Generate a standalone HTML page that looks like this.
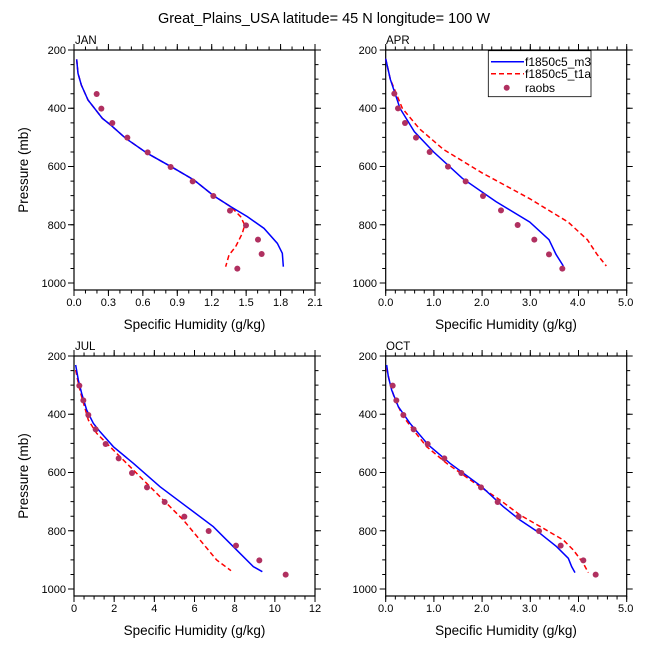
<!DOCTYPE html>
<html><head><meta charset="utf-8"><style>
html,body{margin:0;padding:0;background:#fff}
svg{display:block}
text{font-family:"Liberation Sans",Arial,sans-serif;fill:#000}
</style></head><body>
<svg width="648" height="649" viewBox="0 0 648 649" xmlns="http://www.w3.org/2000/svg">
<defs>
<g id="yax" stroke="#000" fill="none">
  <rect x="0" y="0" width="241" height="240" stroke-width="1.2"/>
  <line x1="-1.75" y1="-0.5" x2="-1.75" y2="240" stroke-width="3.5" stroke-dasharray="1 13.5625"/>
  <line x1="-3" y1="-0.5" x2="-3" y2="240" stroke-width="6" stroke-dasharray="1 57.25"/>
  <line x1="242.75" y1="-0.5" x2="242.75" y2="240" stroke-width="3.5" stroke-dasharray="1 13.5625"/>
  <line x1="244" y1="-0.5" x2="244" y2="240" stroke-width="6" stroke-dasharray="1 57.25"/>
</g>
<g id="xJAN" stroke="#000" fill="none">
  <line x1="-0.5" y1="-1.75" x2="242" y2="-1.75" stroke-width="3.5" stroke-dasharray="1 10.476"/>
  <line x1="-0.5" y1="-3" x2="242" y2="-3" stroke-width="6" stroke-dasharray="1 33.43"/>
  <line x1="-0.5" y1="241.75" x2="242" y2="241.75" stroke-width="3.5" stroke-dasharray="1 10.476"/>
  <line x1="-0.5" y1="243" x2="242" y2="243" stroke-width="6" stroke-dasharray="1 33.43"/>
</g>
<g id="x5" stroke="#000" fill="none">
  <line x1="-0.5" y1="-1.75" x2="242" y2="-1.75" stroke-width="3.5" stroke-dasharray="1 8.64"/>
  <line x1="-0.5" y1="-3" x2="242" y2="-3" stroke-width="6" stroke-dasharray="1 47.2"/>
  <line x1="-0.5" y1="241.75" x2="242" y2="241.75" stroke-width="3.5" stroke-dasharray="1 8.64"/>
  <line x1="-0.5" y1="243" x2="242" y2="243" stroke-width="6" stroke-dasharray="1 47.2"/>
</g>
<g id="xJUL" stroke="#000" fill="none">
  <line x1="-0.5" y1="-1.75" x2="242" y2="-1.75" stroke-width="3.5" stroke-dasharray="1 9.042"/>
  <line x1="-0.5" y1="-3" x2="242" y2="-3" stroke-width="6" stroke-dasharray="1 39.17"/>
  <line x1="-0.5" y1="241.75" x2="242" y2="241.75" stroke-width="3.5" stroke-dasharray="1 9.042"/>
  <line x1="-0.5" y1="243" x2="242" y2="243" stroke-width="6" stroke-dasharray="1 39.17"/>
</g>
</defs>

<text x="324" y="23" font-size="14.5" text-anchor="middle">Great_Plains_USA  latitude= 45 N longitude= 100 W</text>

<!-- JAN -->
<use href="#yax" x="74" y="50"/><use href="#xJAN" x="74" y="50"/>
<text x="75" y="44" font-size="11.5">JAN</text>
<g font-size="11" text-anchor="end"><text x="66" y="54">200</text><text x="66" y="112">400</text><text x="66" y="170">600</text><text x="66" y="229">800</text><text x="66" y="287">1000</text></g>
<g font-size="11" text-anchor="middle"><text x="74" y="306">0.0</text><text x="108.4" y="306">0.3</text><text x="142.9" y="306">0.6</text><text x="177.3" y="306">0.9</text><text x="211.7" y="306">1.2</text><text x="246.1" y="306">1.5</text><text x="280.6" y="306">1.8</text><text x="315" y="306">2.1</text></g>
<text x="194.5" y="329" font-size="13.5" text-anchor="middle">Specific Humidity (g/kg)</text>
<text transform="translate(28,170) rotate(-90)" font-size="13.5" text-anchor="middle">Pressure (mb)</text>
<g transform="translate(74,50) scale(0.33333)" fill="none" stroke-width="4.5">
<polyline stroke="#f00" stroke-dasharray="15 9" points="8,28 12,70 22,105 42,150 85,205 110,225 155,265 220,310 300,355 360,390 420,438 470,470 500,500 512,525 505,550 485,590 465,615 455,650"/>
<polyline stroke="#00f" points="8,28 12,70 22,105 42,150 85,205 110,225 155,265 220,310 300,355 360,390 420,438 470,470 520,500 570,535 610,580 625,610 628,650"/>
<g fill="#b03060" stroke="none"><circle cx="68" cy="132" r="9"/><circle cx="82" cy="176" r="9"/><circle cx="115" cy="219" r="9"/><circle cx="160" cy="263" r="9"/><circle cx="221" cy="307" r="9"/><circle cx="290" cy="351" r="9"/><circle cx="356" cy="394" r="9"/><circle cx="418" cy="438" r="9"/><circle cx="468" cy="482" r="9"/><circle cx="516" cy="526" r="9"/><circle cx="552" cy="569" r="9"/><circle cx="563" cy="612" r="9"/><circle cx="490" cy="656" r="9"/></g>
</g>

<!-- APR -->
<use href="#yax" x="385.7" y="50"/><use href="#x5" x="385.7" y="50"/>
<text x="386" y="44" font-size="11.5">APR</text>
<g font-size="11" text-anchor="end"><text x="377" y="54">200</text><text x="377" y="112">400</text><text x="377" y="170">600</text><text x="377" y="229">800</text><text x="377" y="287">1000</text></g>
<g font-size="11" text-anchor="middle"><text x="385.7" y="306">0.0</text><text x="433.7" y="306">1.0</text><text x="481.7" y="306">2.0</text><text x="529.7" y="306">3.0</text><text x="577.7" y="306">4.0</text><text x="625.7" y="306">5.0</text></g>
<text x="506" y="329" font-size="13.5" text-anchor="middle">Specific Humidity (g/kg)</text>
<g transform="translate(370,30) scale(0.33333)" fill="none" stroke-width="4.5">
<polyline stroke="#f00" stroke-dasharray="15 9" points="47,86 61,148 97,235 148,296 220,358 335,428 479,506 594,576 652,629 681,673 709,708"/>
<polyline stroke="#00f" points="47,86 61,148 90,235 133,305 191,366 277,445 378,515 479,576 537,629 558,673 580,708"/>
<g fill="#b03060" stroke="none"><circle cx="73" cy="191" r="9"/><circle cx="84" cy="235" r="9"/><circle cx="105" cy="279" r="9"/><circle cx="138" cy="323" r="9"/><circle cx="179" cy="366" r="9"/><circle cx="234" cy="410" r="9"/><circle cx="287" cy="454" r="9"/><circle cx="339" cy="498" r="9"/><circle cx="393" cy="541" r="9"/><circle cx="443" cy="585" r="9"/><circle cx="493" cy="629" r="9"/><circle cx="537" cy="673" r="9"/><circle cx="577" cy="716" r="9"/></g>
</g>
<!-- legend -->
<rect x="488.3" y="50.7" width="102.7" height="46" fill="#fff" stroke="#000" stroke-width="0.8"/>
<line x1="491" y1="61.7" x2="524" y2="61.7" stroke="#00f" stroke-width="1.5"/>
<line x1="491" y1="73.7" x2="524" y2="73.7" stroke="#f00" stroke-width="1.5" stroke-dasharray="5 3"/>
<circle cx="506.7" cy="87.7" r="3" fill="#b03060"/>
<g font-size="12"><text x="525" y="66">f1850c5_m3</text><text x="525" y="78">f1850c5_t1a</text><text x="525" y="92">raobs</text></g>

<!-- JUL -->
<use href="#yax" x="74" y="356"/><use href="#xJUL" x="74" y="356"/>
<text x="75" y="350" font-size="11.5">JUL</text>
<g font-size="11" text-anchor="end"><text x="66" y="360">200</text><text x="66" y="418">400</text><text x="66" y="476">600</text><text x="66" y="535">800</text><text x="66" y="593">1000</text></g>
<g font-size="11" text-anchor="middle"><text x="74" y="612">0</text><text x="114.2" y="612">2</text><text x="154.3" y="612">4</text><text x="194.5" y="612">6</text><text x="234.7" y="612">8</text><text x="274.8" y="612">10</text><text x="315" y="612">12</text></g>
<text x="194.5" y="635" font-size="13.5" text-anchor="middle">Specific Humidity (g/kg)</text>
<text transform="translate(28,476) rotate(-90)" font-size="13.5" text-anchor="middle">Pressure (mb)</text>
<g transform="translate(60,340) scale(0.33333)" fill="none" stroke-width="4.5">
<polyline stroke="#f00" stroke-dasharray="15 9" points="47,90 55,130 65,170 85,240 110,280 150,320 200,370 260,430 320,490 370,540 420,600 470,660 513,692"/>
<polyline stroke="#00f" points="47,75 55,120 65,160 80,210 100,250 120,275 160,320 220,370 300,440 380,500 460,560 520,620 580,680 607,695"/>
<g fill="#b03060" stroke="none"><circle cx="58" cy="137" r="9"/><circle cx="70" cy="181" r="9"/><circle cx="85" cy="225" r="9"/><circle cx="107" cy="268" r="9"/><circle cx="137" cy="312" r="9"/><circle cx="176" cy="355" r="9"/><circle cx="216" cy="399" r="9"/><circle cx="261" cy="442" r="9"/><circle cx="314" cy="486" r="9"/><circle cx="373" cy="530" r="9"/><circle cx="446" cy="573" r="9"/><circle cx="528" cy="617" r="9"/><circle cx="598" cy="661" r="9"/><circle cx="677" cy="704" r="9"/></g>
</g>

<!-- OCT -->
<use href="#yax" x="385.7" y="356"/><use href="#x5" x="385.7" y="356"/>
<text x="386" y="350" font-size="11.5">OCT</text>
<g font-size="11" text-anchor="end"><text x="377" y="360">200</text><text x="377" y="418">400</text><text x="377" y="476">600</text><text x="377" y="535">800</text><text x="377" y="593">1000</text></g>
<g font-size="11" text-anchor="middle"><text x="385.7" y="612">0.0</text><text x="433.7" y="612">1.0</text><text x="481.7" y="612">2.0</text><text x="529.7" y="612">3.0</text><text x="577.7" y="612">4.0</text><text x="625.7" y="612">5.0</text></g>
<text x="506" y="635" font-size="13.5" text-anchor="middle">Specific Humidity (g/kg)</text>
<g transform="translate(370,340) scale(0.33333)" fill="none" stroke-width="4.5">
<polyline stroke="#f00" stroke-dasharray="15 9" points="50,85 60,130 75,180 100,230 130,270 170,320 230,370 330,440 390,480 450,525 520,565 580,600 610,630 640,670 655,698"/>
<polyline stroke="#00f" points="50,75 55,110 65,150 85,200 120,250 175,315 240,370 335,440 400,500 450,540 510,580 560,620 595,655 605,680 615,698"/>
<g fill="#b03060" stroke="none"><circle cx="68" cy="137" r="9"/><circle cx="79" cy="181" r="9"/><circle cx="100" cy="225" r="9"/><circle cx="131" cy="268" r="9"/><circle cx="173" cy="312" r="9"/><circle cx="223" cy="355" r="9"/><circle cx="274" cy="399" r="9"/><circle cx="333" cy="442" r="9"/><circle cx="383" cy="486" r="9"/><circle cx="446" cy="530" r="9"/><circle cx="507" cy="573" r="9"/><circle cx="572" cy="617" r="9"/><circle cx="640" cy="661" r="9"/><circle cx="677" cy="704" r="9"/></g>
</g>
</svg>
</body></html>
